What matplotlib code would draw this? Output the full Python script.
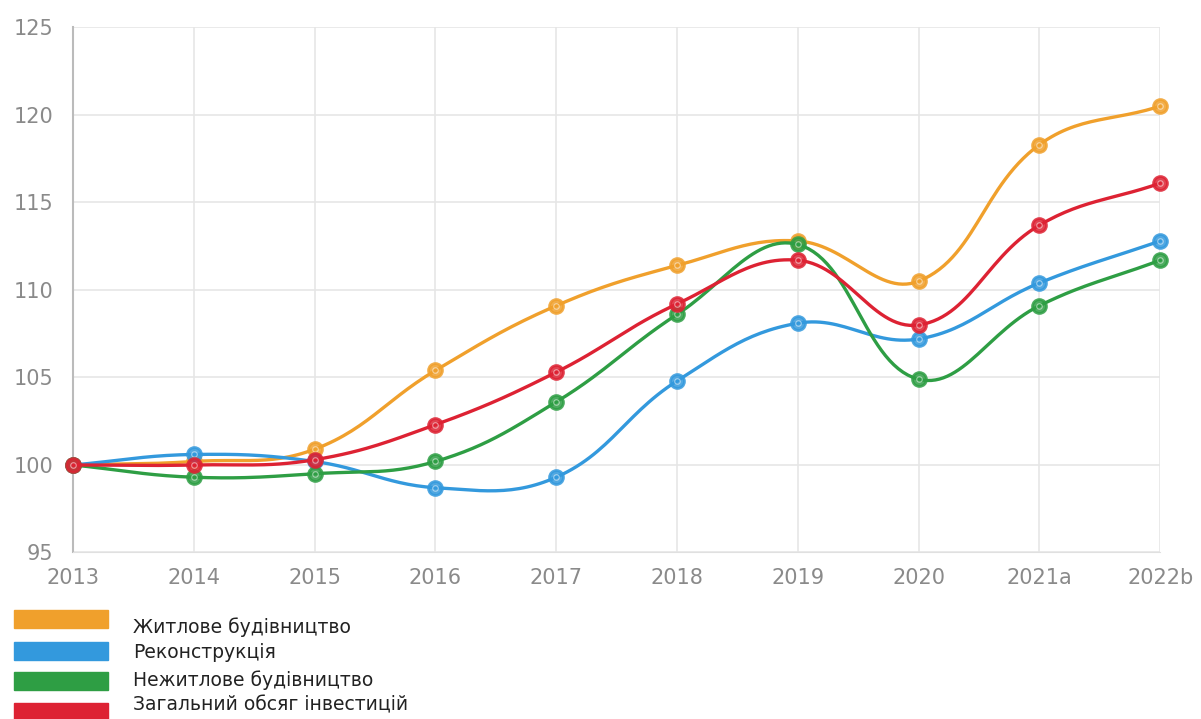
import numpy as np
import matplotlib.pyplot as plt
from matplotlib.patches import Rectangle

# data
years = ["2013", "2014", "2015", "2016", "2017", "2018", "2019", "2020", "2021a", "2022b"]
zhytlove = [100, 100.2, 100.9, 105.4, 109.1, 111.4, 112.8, 110.5, 118.3, 120.5]
rekonstr = [100, 100.6, 100.2, 98.7, 99.3, 104.8, 108.1, 107.2, 110.4, 112.8]
nezhytlove = [100, 99.3, 99.5, 100.2, 103.6, 108.6, 112.6, 104.9, 109.1, 111.7]
zagalnyi = [100, 100.0, 100.3, 102.3, 105.3, 109.2, 111.7, 108.0, 113.7, 116.1]

labels = ["Житлове будівництво", "Реконструкція", "Нежитлове будівництво", "Загальний обсяг інвестицій"]
colors = ["#F0A02C", "#3399DD", "#2E9E44", "#DD2233"]
series = [zhytlove, rekonstr, nezhytlove, zagalnyi]


def smooth(ys, t=0.4, sx=121.0, sy=17.5, n=30):
    # chart.js-like bezier spline, computed in pixel-ish units
    px = np.arange(len(ys)) * sx
    py = np.array(ys, dtype=float) * sy
    m = len(px)
    c1 = np.zeros((m, 2))
    c2 = np.zeros((m, 2))
    for i in range(m):
        cur = np.array([px[i], py[i]])
        prev = np.array([px[max(i - 1, 0)], py[max(i - 1, 0)]])
        nxt = np.array([px[min(i + 1, m - 1)], py[min(i + 1, m - 1)]])
        d01 = np.hypot(*(cur - prev))
        d12 = np.hypot(*(nxt - cur))
        tot = d01 + d12 if d01 + d12 > 0 else 1
        fa = t * d01 / tot
        fb = t * d12 / tot
        c1[i] = cur - fa * (nxt - prev)
        c2[i] = cur + fb * (nxt - prev)
    xs, yv = [], []
    s = np.linspace(0, 1, n)
    for i in range(m - 1):
        p0 = np.array([px[i], py[i]])
        p3 = np.array([px[i + 1], py[i + 1]])
        p1 = c2[i]
        p2 = c1[i + 1]
        b = ((1 - s) ** 3)[:, None] * p0 + (3 * (1 - s) ** 2 * s)[:, None] * p1 \
            + (3 * (1 - s) * s ** 2)[:, None] * p2 + (s ** 3)[:, None] * p3
        xs.extend(b[:, 0])
        yv.extend(b[:, 1])
    return np.array(xs) / sx, np.array(yv) / sy


fig = plt.figure(figsize=(12.01, 7.19), dpi=100)
ax = fig.add_axes([0.0608, 0.2316, 0.9052, 0.7302])

x = np.arange(len(years))
order = [2, 3, 1, 0]
for i in order:
    sxv, syv = smooth(series[i])
    ax.plot(sxv, syv, color=colors[i], lw=2.4, clip_on=False, zorder=3 + i)
    ax.plot(x, series[i], "o", ms=10, mfc=colors[i], mec=colors[i], mew=2,
            alpha=0.85, clip_on=False, zorder=3 + i)
    ax.plot(x, series[i], "o", ms=4, mfc="none", mec="white", mew=0.8,
            alpha=0.5, clip_on=False, zorder=3 + i)

ax.set_xlim(0, len(years) - 1)
ax.set_ylim(95, 125)
ax.set_yticks([95, 100, 105, 110, 115, 120, 125])
ax.set_xticks(x)
ax.set_xticklabels(years)
ax.grid(True, color="#E6E6E6", lw=1.2)
ax.set_axisbelow(True)
for sp in ["top", "right"]:
    ax.spines[sp].set_visible(False)
ax.spines["bottom"].set_color("#E0E0E0")
ax.spines["left"].set_color("#BBBBBB")
ax.spines["left"].set_linewidth(1.5)
ax.tick_params(length=0, labelsize=15, labelcolor="#8A8A8A")
ax.tick_params(axis="x", pad=11)
ax.tick_params(axis="y", pad=14)

# legend drawn as plain boxes + text
W, H = 1201.0, 719.0
box_tops = [610, 642, 672, 703]
text_y = [627, 653, 680, 705]
for i in range(len(labels)):
    fig.patches.append(Rectangle((14 / W, 1 - (box_tops[i] + 18) / H), 94 / W, 18 / H,
                                 transform=fig.transFigure, color=colors[i]))
    fig.text(133 / W, 1 - text_y[i] / H, labels[i], fontsize=13.5, color="#222222",
             va="center", ha="left")

fig.savefig("out.png", dpi=100)
